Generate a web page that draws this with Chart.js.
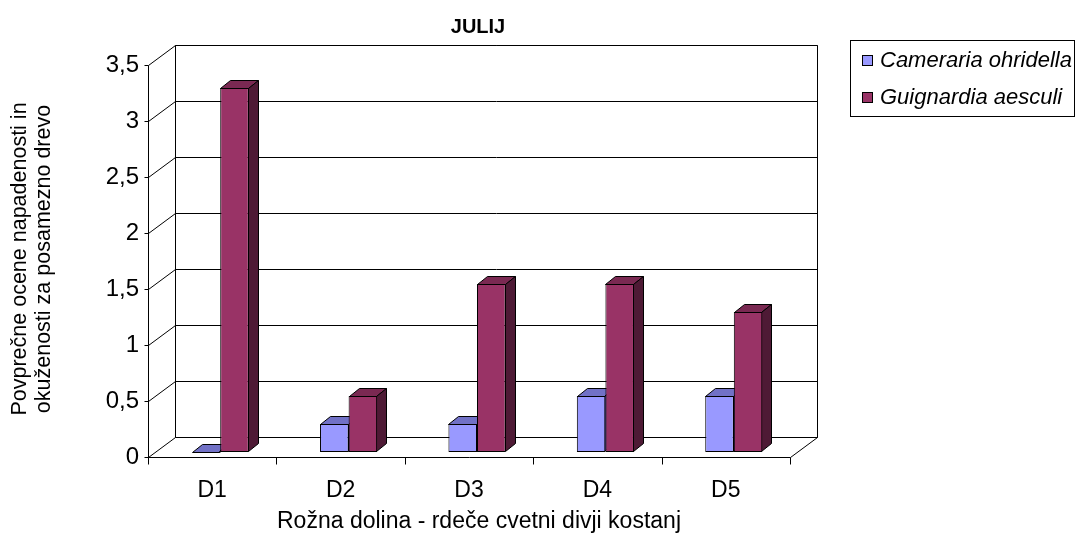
<!DOCTYPE html>
<html>
<head>
<meta charset="utf-8">
<script src="https://cdn.jsdelivr.net/npm/chart.js@4.4.0/dist/chart.umd.min.js"></script>
<style>
  body { margin: 0; background: #fff; }
  #wrap { position: relative; width: 1075px; height: 538px; }
  #legend {
    position: absolute; left: 850px; top: 40px; width: 225px; height: 77px;
    border: 1px solid #000; box-sizing: border-box;
    font: italic 22px "Liberation Sans", Arial, sans-serif; color: #000;
  }
  #legend .item { position: absolute; left: 11px; white-space: nowrap; line-height: 22px; }
  #legend .box {
    display: inline-block; width: 9px; height: 9px; border: 1px solid #000;
    margin-right: 7px; vertical-align: 1px;
  }
</style>
</head>
<body>
<div id="wrap">
  <canvas id="chart" width="1075" height="538"></canvas>
  <div id="legend"></div>
</div>
<script>
var categories = ["D1", "D2", "D3", "D4", "D5"];
var cameraria = [0, 0.25, 0.25, 0.5, 0.5];
var guignardia = [3.25, 0.5, 1.5, 1.5, 1.25];
var yTicks = [0, 0.5, 1, 1.5, 2, 2.5, 3, 3.5];

var seriesNames = ["Cameraria ohridella", "Guignardia aesculi"];
var frontColors = ["#9999FF", "#993366"];
var topColors = ["#7171C6", "#7A2952"];
var sideColors = ["#4D4D80", "#4E1A35"];

var FONT = '"Liberation Sans", Arial, sans-serif';

// wall depth, bar offset inside the floor, bar depth
var WALL_DX = 27, WALL_DY = -20;
var BAR_DX = 8, BAR_DY = -5;
var DEPTH_DX = 10, DEPTH_DY = -8;

function crisp(v) { return Math.round(v) + 0.5; }

var walls3d = {
  id: "walls3d",
  beforeDatasetsDraw: function (chart) {
    var ctx = chart.ctx;
    var x = chart.scales.x, y = chart.scales.y;
    var left = crisp(x.left), right = crisp(x.right);
    var top = crisp(y.getPixelForValue(yTicks[yTicks.length - 1]));
    var bottom = crisp(y.getPixelForValue(0));

    ctx.save();
    ctx.strokeStyle = "#000";
    ctx.lineWidth = 1;

    // back wall
    ctx.fillStyle = "#fff";
    ctx.fillRect(left + WALL_DX, top + WALL_DY, right - left, bottom - top);
    ctx.beginPath();
    ctx.rect(left + WALL_DX, top + WALL_DY, right - left, bottom - top);
    ctx.stroke();

    // grid lines on the back wall and the left wall, tick marks
    yTicks.forEach(function (v) {
      var py = crisp(y.getPixelForValue(v));
      ctx.beginPath();
      ctx.moveTo(left + WALL_DX, py + WALL_DY);
      ctx.lineTo(right + WALL_DX, py + WALL_DY);
      ctx.moveTo(left, py);
      ctx.lineTo(left + WALL_DX, py + WALL_DY);
      ctx.moveTo(left - 4, py);
      ctx.lineTo(left, py);
      ctx.stroke();
    });

    // front axis and floor
    ctx.beginPath();
    ctx.moveTo(left, top);
    ctx.lineTo(left, bottom);
    ctx.lineTo(right, bottom);
    ctx.lineTo(right + WALL_DX, bottom + WALL_DY);
    ctx.stroke();

    // category ticks
    var step = (x.right - x.left) / categories.length;
    ctx.beginPath();
    for (var i = 0; i <= categories.length; i++) {
      var px = crisp(x.left + i * step);
      ctx.moveTo(px, bottom);
      ctx.lineTo(px, bottom + 7);
    }
    ctx.stroke();

    // top and side faces of the bars; the front faces come from the library
    chart.data.datasets.forEach(function (ds, di) {
      var meta = chart.getDatasetMeta(di);
      meta.data.forEach(function (bar) {
        var p = bar.getProps(["x", "y", "base", "width"], true);
        var l = Math.round(p.x - p.width / 2) + BAR_DX + 0.5;
        var r = Math.round(p.x + p.width / 2) + BAR_DX - 0.5;
        var t = Math.round(p.y) + BAR_DY + 0.5;
        var b = Math.round(p.base) + BAR_DY - 0.5;
        ctx.fillStyle = topColors[di];
        ctx.beginPath();
        ctx.moveTo(l, t);
        ctx.lineTo(l + DEPTH_DX, t + DEPTH_DY);
        ctx.lineTo(r + DEPTH_DX, t + DEPTH_DY);
        ctx.lineTo(r, t);
        ctx.closePath();
        ctx.fill();
        ctx.stroke();
        ctx.fillStyle = sideColors[di];
        ctx.beginPath();
        ctx.moveTo(r, t);
        ctx.lineTo(r + DEPTH_DX, t + DEPTH_DY);
        ctx.lineTo(r + DEPTH_DX, b + DEPTH_DY);
        ctx.lineTo(r, b);
        ctx.closePath();
        ctx.fill();
        ctx.stroke();
      });
    });
    ctx.restore();

    // the front faces sit halfway into the floor
    ctx.save();
    ctx.translate(BAR_DX, BAR_DY);
  },
  afterDatasetsDraw: function (chart) {
    chart.ctx.restore();
  },
  afterDraw: function (chart) {
    var ctx = chart.ctx;
    ctx.save();
    ctx.fillStyle = "#000";
    ctx.textAlign = "center";
    ctx.textBaseline = "middle";
    ctx.font = "bold 20px " + FONT;
    ctx.fillText("JULIJ", 478, 27);
    ctx.font = "23px " + FONT;
    ctx.fillText("Rožna dolina - rdeče cvetni divji kostanj", 479, 522);
    ctx.translate(20, 259);
    ctx.rotate(-Math.PI / 2);
    ctx.font = "21.5px " + FONT;
    ctx.fillText("Povprečne ocene napadenosti in", 0, 0);
    ctx.fillText("okuženosti za posamezno drevo", 0, 24);
    ctx.restore();
  }
};

var chart = new Chart(document.getElementById("chart"), {
  type: "bar",
  data: {
    labels: categories,
    datasets: [cameraria, guignardia].map(function (values, i) {
      return {
        label: seriesNames[i],
        data: values,
        backgroundColor: frontColors[i],
        borderColor: "#000",
        borderWidth: 1,
        borderSkipped: false,
        barPercentage: 1,
        categoryPercentage: 0.445,
        clip: false
      };
    })
  },
  options: {
    responsive: false,
    animation: false,
    layout: { padding: { left: 0, top: 65, right: 285, bottom: 0 } },
    plugins: {
      legend: { display: false },
      tooltip: { enabled: false }
    },
    scales: {
      x: {
        grid: { display: false, drawTicks: false },
        border: { display: false },
        ticks: { color: "#000", font: { family: FONT, size: 23 }, padding: 20 },
        afterFit: function (s) { s.height = 81; }
      },
      y: {
        min: 0,
        max: 3.5,
        grid: { display: false, drawTicks: false },
        border: { display: false },
        afterBuildTicks: function (s) {
          s.ticks = yTicks.map(function (v) { return { value: v }; });
        },
        ticks: {
          color: "#000",
          font: { family: FONT, size: 24 },
          padding: 9,
          callback: function (v) { return String(v).replace(".", ","); }
        },
        afterFit: function (s) { s.width = 148; }
      }
    }
  },
  plugins: [walls3d]
});

// legend
var legend = document.getElementById("legend");
seriesNames.forEach(function (name, i) {
  var item = document.createElement("div");
  item.className = "item";
  item.style.top = (8 + i * 37) + "px";
  var box = document.createElement("span");
  box.className = "box";
  box.style.background = frontColors[i];
  item.appendChild(box);
  item.appendChild(document.createTextNode(name));
  legend.appendChild(item);
});
</script>
</body>
</html>
